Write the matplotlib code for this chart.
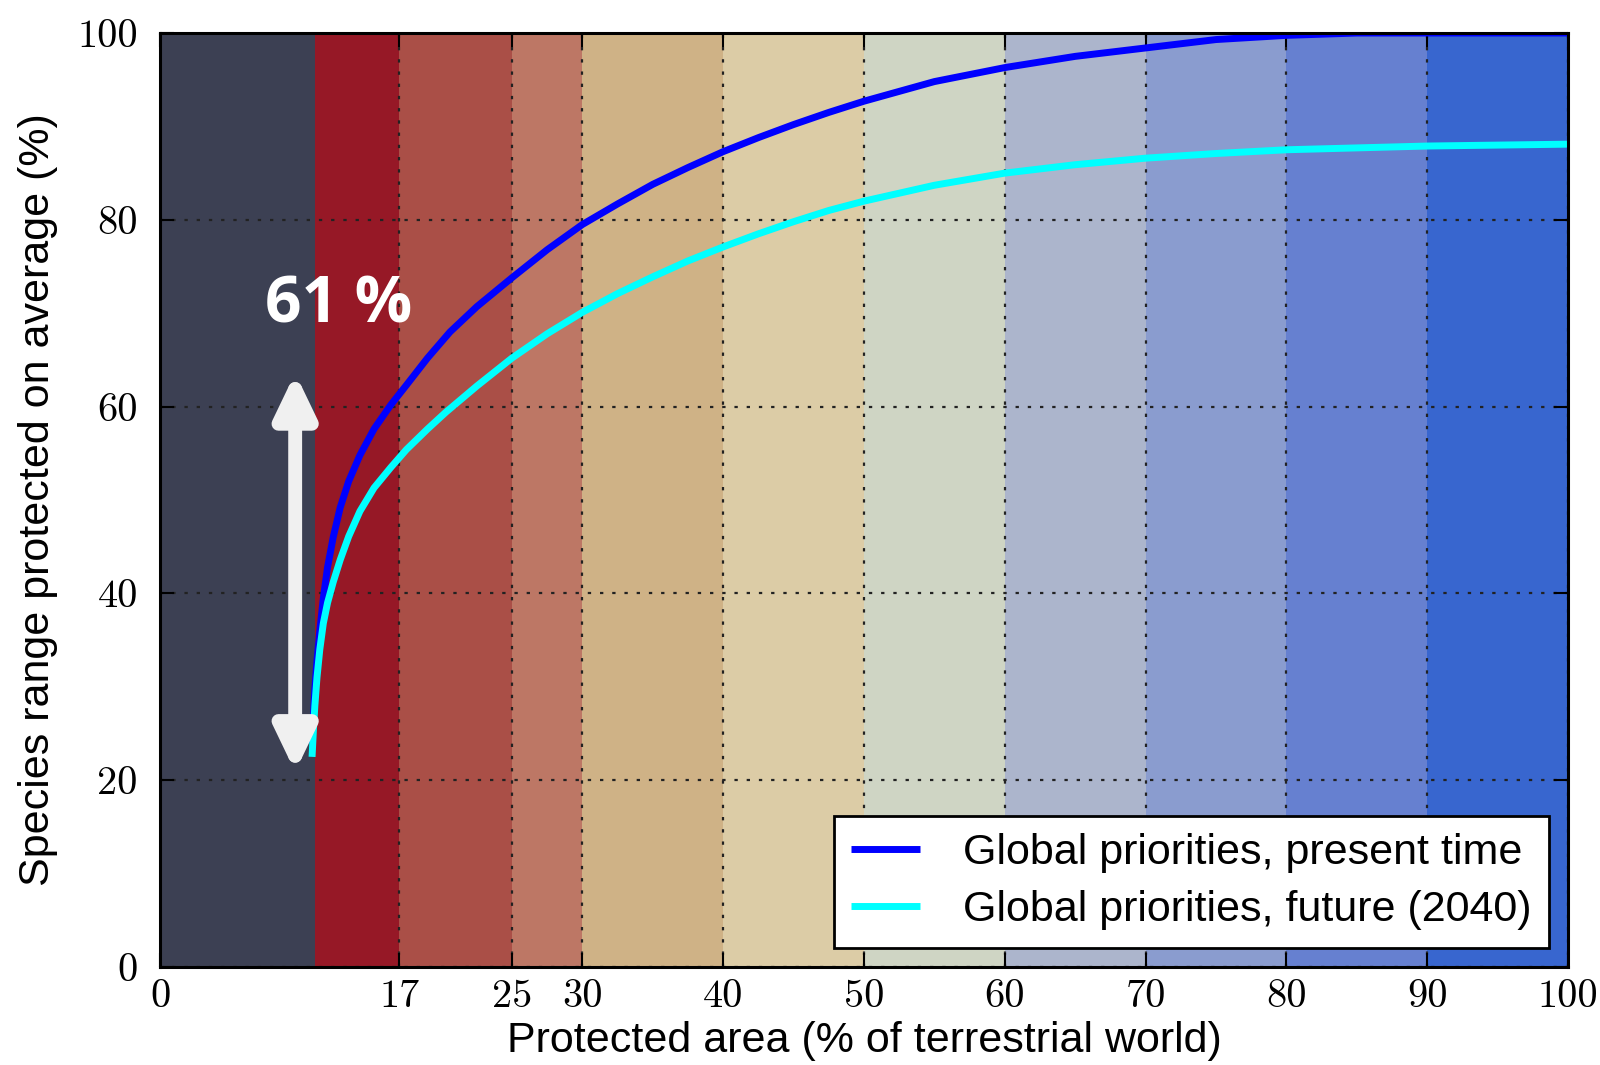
import numpy as np
import matplotlib
matplotlib.use('Agg')
import matplotlib.pyplot as plt
from matplotlib.patches import FancyArrowPatch
from matplotlib import font_manager

# Band edges (% of terrestrial world) and their fill colours
band_edges = [0, 11, 17, 25, 30, 40, 50, 60, 70, 80, 90, 100]
band_colors = ['#3c4053', '#961826', '#aa4f47', '#bd7765', '#cfb286', '#dccca6',
               '#cfd5c4', '#acb5cc', '#8a9ccf', '#6680d0', '#3866cf']

# Curves
area_present = [10.8, 10.9, 11.0, 11.15, 11.35, 11.6, 11.9, 12.3, 12.8, 13.4, 14.2,
                15.2, 16.4, 17.5, 19, 20.6, 22.5, 25, 27.5, 30, 32.5, 35, 37.5, 40,
                42.5, 45, 47.5, 50, 55, 60, 65, 70, 75, 80, 85, 90, 100]
present = [24, 27, 29.8, 32.8, 36, 39.5, 42.8, 46, 49.2, 52, 54.8,
           57.6, 60.2, 62.3, 65.2, 68, 70.7, 73.8, 76.8, 79.5, 81.7, 83.8, 85.6, 87.3,
           88.8, 90.2, 91.5, 92.7, 94.8, 96.3, 97.5, 98.4, 99.3, 99.75, 100, 100, 100]

area_future = [10.8, 10.9, 11.0, 11.15, 11.35, 11.6, 11.9, 12.3, 12.8, 13.4, 14.2,
               15.2, 16.4, 17.5, 19, 20.3, 22.5, 25, 27.5, 30, 32.5, 35, 37.5, 40,
               42.5, 45, 47.5, 50, 55, 60, 65, 70, 75, 80, 90, 100]
future = [22.5, 25.5, 28, 31, 34, 36.8, 39.0, 41.2, 43.6, 46.1, 48.8,
          51.3, 53.5, 55.4, 57.6, 59.4, 62.2, 65.2, 67.8, 70.1, 72.1, 73.9, 75.6, 77.1,
          78.5, 79.8, 81.0, 82.0, 83.7, 85.0, 85.9, 86.6, 87.1, 87.5, 87.9, 88.1]

xticks = [0, 17, 25, 30, 40, 50, 60, 70, 80, 90, 100]
yticks = [0, 20, 40, 60, 80, 100]

installed = {f.name for f in font_manager.fontManager.ttflist}
sans = 'Liberation Sans'
serif = 'cmr10' if 'cmr10' in installed else 'DejaVu Serif'

fig = plt.figure(figsize=(16, 10.65), dpi=100)
ax = fig.add_axes([0.1, 0.092, 0.88, 0.877])

# coloured bands
for i in range(len(band_colors)):
    ax.axvspan(band_edges[i], band_edges[i + 1], color=band_colors[i], lw=0, zorder=0)

ax.plot(area_present, present, color='#0000ff', lw=5, solid_capstyle='butt',
        solid_joinstyle='round', zorder=3, label='Global priorities, present time')
ax.plot(area_future, future, color='#00ffff', lw=5, solid_capstyle='butt',
        solid_joinstyle='round', zorder=3, label='Global priorities, future (2040)')

ax.set_xlim(0, 100)
ax.set_ylim(0, 100)
ax.set_xticks(xticks)
ax.set_yticks(yticks)
ax.grid(True, linestyle=(0, (1.5, 4)), color='#222222', lw=1.6, zorder=1)
ax.set_axisbelow(False)
ax.tick_params(direction='in', length=10, width=1.5, top=True, right=True,
               labelsize=29)
ax.tick_params(axis='y', pad=16)
ax.tick_params(axis='x', pad=9)
for lab in ax.get_xticklabels() + ax.get_yticklabels():
    lab.set_fontfamily(serif)
for sp in ax.spines.values():
    sp.set_linewidth(2.2)
    sp.set_zorder(5)

ax.set_xlabel('Protected area (% of terrestrial world)', fontsize=31,
              family=sans, labelpad=4)
ax.set_ylabel('Species range protected on average (%)', fontsize=31,
              family=sans, labelpad=14)

leg = ax.legend(loc='lower right', prop={'family': sans, 'size': 31},
                fancybox=False, framealpha=1, edgecolor='black',
                handlelength=1.6, borderpad=0.4, labelspacing=0.4,
                handletextpad=1.0, borderaxespad=0.45)
leg.get_frame().set_linewidth(2)

# white double arrow and the 61 % label
arr = FancyArrowPatch((9.6, 20.9), (9.6, 63.6),
                      arrowstyle='<|-|>,head_length=25,head_width=12',
                      mutation_scale=1, color='#f0f0f0', lw=10,
                      shrinkA=0, shrinkB=0, zorder=4)
ax.add_patch(arr)
ax.text(12.7, 70.8, '61 %', color='white', fontsize=46, fontweight='bold',
        family='Open Sans', ha='center', va='center', zorder=6)

fig.savefig('out.png', dpi=100)
